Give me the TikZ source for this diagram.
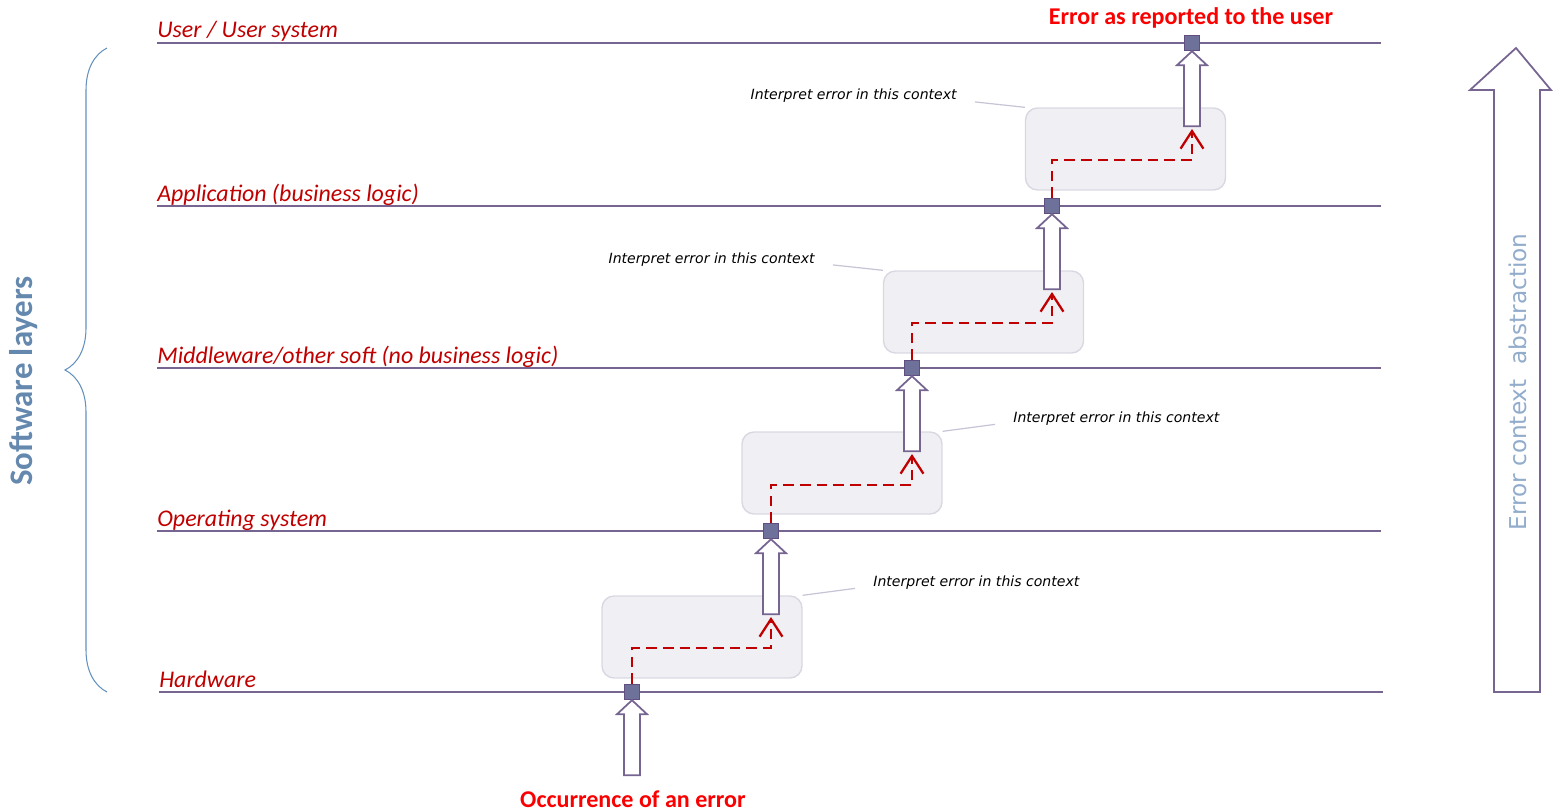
\documentclass[tikz,border=0pt]{standalone}
\usepackage{fontspec}
\setmainfont{Carlito}
\newfontfamily\notefont{DejaVu Sans}
\usetikzlibrary{arrows.meta,decorations.pathreplacing,calc}

\definecolor{layerline}{RGB}{118,100,145}
\definecolor{labelred}{RGB}{192,0,0}
\definecolor{alertred}{RGB}{250,0,0}
\definecolor{dashred}{RGB}{192,0,0}
\definecolor{sqfill}{RGB}{110,114,155}
\definecolor{sqdraw}{RGB}{96,78,128}
\definecolor{boxfill}{RGB}{240,240,244}
\definecolor{boxdraw}{RGB}{216,216,226}
\definecolor{leadercol}{RGB}{200,196,214}
\definecolor{bracecol}{RGB}{100,145,190}
\definecolor{layerstxt}{RGB}{100,136,174}
\definecolor{abstrtxt}{RGB}{146,172,204}

\begin{document}
\begin{tikzpicture}[x=0.02cm, y=-0.02cm,
  layer/.style={draw=layerline, line width=1.1pt},
  layername/.style={anchor=base west, inner sep=0pt, text=labelred, font=\fontsize{13.6}{15}\selectfont\itshape},
  errsq/.style={draw=sqdraw, fill=sqfill, line width=0.8pt, minimum size=0.3cm, inner sep=0pt},
  ctxbox/.style={draw=boxdraw, fill=boxfill, line width=0.8pt, rounded corners=0.24cm, minimum width=4cm, minimum height=1.64cm},
  note/.style={inner sep=0pt, font=\notefont\fontsize{8}{9}\selectfont\itshape},
  leader/.style={draw=leadercol, line width=0.7pt, shorten >=0.36cm},
  errpath/.style={draw=dashred, line width=1.6pt, dash pattern=on 6pt off 3.5pt, -{Straight Barb[length=10pt,width=13pt,line width=1.3pt]}},
  hollow/.style={draw=layerline, fill=white, line width=1pt, line join=miter},
  upblock/.pic={\draw[hollow] (0,0) -- (15,14) -- (8,14) -- (8,75) -- (-8,75) -- (-8,14) -- (-15,14) -- cycle;},
  alert/.style={inner sep=0pt, text=alertred, font=\fontsize{13.7}{15}\selectfont\bfseries}]

\useasboundingbox (0,0) rectangle (1553,811);

% brace and its title
\draw[bracecol, line width=0.6pt, decorate, decoration={brace, amplitude=0.84cm}] (107,692) -- (107,48);
\node[rotate=90, text=layerstxt, font=\fontsize{18.7}{20}\selectfont\bfseries] (swlayers) at (24,381) {Software layers};

% layers
\draw[layer] (157,43) -- (1381,43);
\draw[layer] (157,206) -- (1381,206);
\draw[layer] (157,368) -- (1381,368);
\draw[layer] (157,531) -- (1381,531);
\draw[layer] (159,692) -- (1383,692);
\node[layername] (lUser) at (157,38) {User / User system};
\node[layername] (lApp) at (157,201) {Application (business logic)};
\node[layername] (lMid) at (157,363) {Middleware/other soft (no business logic)};
\node[layername] (lOS) at (157,526) {Operating system};
\node[layername] (lHW) at (159,687) {Hardware};

% context boxes
\node[ctxbox] (ctx1) at (702,637) {};
\node[ctxbox] (ctx2) at (842,473) {};
\node[ctxbox] (ctx3) at (983.5,312) {};
\node[ctxbox] (ctx4) at (1125.5,149) {};

\node[note, anchor=base west] (note1) at (873,586) {Interpret error in this context};
\node[note, anchor=base west] (note2) at (1013,422) {Interpret error in this context};
\node[note, anchor=base east] (note3) at (815,263) {Interpret error in this context};
\node[note, anchor=base east] (note4) at (957,100) {Interpret error in this context};
\draw[leader] (ctx1.north east) -- (note1.base west);
\draw[leader] (ctx2.north east) -- (note2.base west);
\draw[leader] (ctx3.north west) -- (note3.base east);
\draw[leader] (ctx4.north west) -- (note4.base east);

% error points
\node[errsq] (sq1) at (632,692) {};
\node[errsq] (sq2) at (771,531) {};
\node[errsq] (sq3) at (912,368) {};
\node[errsq] (sq4) at (1052,206) {};
\node[errsq] (sq5) at (1192,43) {};

\draw[errpath] (sq1.north) |- ($(sq2)+(0,117)$) -- ++(0,-31);
\draw[errpath] (sq2.north) |- ($(sq3)+(0,117)$) -- ++(0,-31);
\draw[errpath] (sq3.north) |- ($(sq4)+(0,117)$) -- ++(0,-31);
\draw[errpath] (sq4.north) |- ($(sq5)+(0,117)$) -- ++(0,-31);

\pic at (sq1.south) {upblock};
\pic at (sq2.south) {upblock};
\pic at (sq3.south) {upblock};
\pic at (sq4.south) {upblock};
\pic at (sq5.south) {upblock};

\node[alert, anchor=base] (occur) at (633,807) {Occurrence of an error};
\node[alert, anchor=base] (report) at (1191,25) {Error as reported to the user};

% abstraction arrow
\draw[hollow] (1516,48) -- (1551,90) -- (1540,90) -- (1540,692) -- (1494,692) -- (1494,90) -- (1470,90) -- cycle;
\node[rotate=90, text=abstrtxt, font=\notefont\fontsize{13.2}{15}\selectfont] (abstr) at (1518,382) {Error context~ abstraction};
\end{tikzpicture}
\end{document}
